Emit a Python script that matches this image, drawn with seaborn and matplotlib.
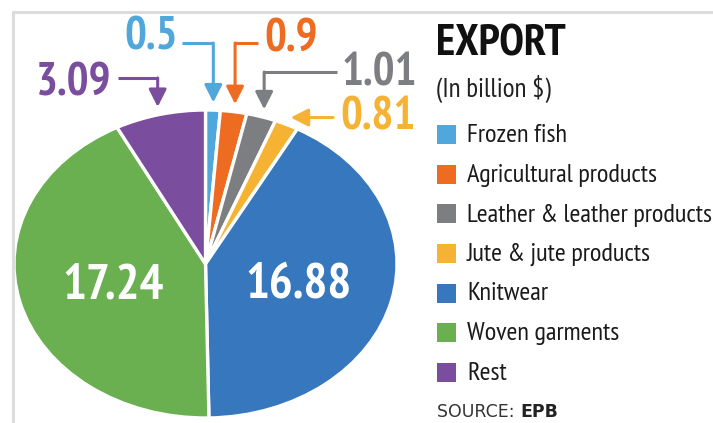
import matplotlib
matplotlib.use("Agg")
import matplotlib.pyplot as plt
import seaborn as sns
import numpy as np

# Export earnings by sector, in billion dollars
categories = ["Frozen fish", "Agricultural products", "Leather & leather products",
              "Jute & jute products", "Knitwear", "Woven garments", "Rest"]
values = [0.5, 0.9, 1.01, 0.81, 16.88, 17.24, 3.09]
value_labels = ["0.5", "0.9", "1.01", "0.81", "16.88", "17.24", "3.09"]
colors = ["#4fa7dc", "#ee6b22", "#7d7e82", "#f6b232", "#3777bd", "#6aaf50", "#7a4d9e"]
title = "EXPORT"
subtitle = "(In billion $)"
source_prefix = "SOURCE:"
source_name = "EPB"

sns.set_theme(style="white")
NARROW = ["PT Sans Narrow", "Archivo Narrow", "Roboto Condensed", "DejaVu Sans"]
plt.rcParams["font.family"] = NARROW

W, H = 713, 423
fig = plt.figure(figsize=(W / 100, H / 100), dpi=100)
fig.patch.set_facecolor("white")
ax = fig.add_axes([0, 0, 1, 1])

# ellipse centre and radii in pixels (pie is stretched horizontally)
CX, CY, RX, RY = 205.5, 264.0, 191.5, 154.0


def to_data(px, py):
    return (px - CX) / RX, (CY - py) / RY


wedges, _ = ax.pie(values, colors=colors, startangle=90, counterclock=False,
                   wedgeprops=dict(edgecolor="white", linewidth=2.4))
ax.set_aspect("auto")
ax.set_xlim(-CX / RX, (W - CX) / RX)
ax.set_ylim((CY - H) / RY, CY / RY)
ax.axis("off")

# frame lines along top and left
fig.add_artist(plt.Line2D([12.5 / W, 1], [1 - 12.5 / H, 1 - 12.5 / H],
                          color="#dcdcdc", lw=2.2))
fig.add_artist(plt.Line2D([12.5 / W, 12.5 / W], [0, 1 - 12.5 / H],
                          color="#dcdcdc", lw=2.2))


def mid_angle(w):
    return np.deg2rad((w.theta1 + w.theta2) / 2)


# callouts for the small slices: (index, text x, text y, align, line y, start x, vertical?)
callouts = [
    (0, 178, 37, "right", 43, 182, True),
    (1, 264, 40, "left", 43, 258, True),
    (2, 342, 73, "left", 72, 337, True),
    (3, 340, 118, "left", None, 333, False),
    (6, 111, 83, "right", 78, 118, True),
]
for idx, tx, ty, ha, ly, sx, vertical in callouts:
    c = colors[idx]
    a = mid_angle(wedges[idx])
    tip = (1.05 * np.cos(a), 1.05 * np.sin(a))
    ax.text(*to_data(tx, ty), value_labels[idx], ha=ha, va="center", color=c,
            fontsize=33, fontweight="bold")
    if vertical:
        elbow = (tip[0], to_data(0, ly)[1])
        start = (to_data(sx, 0)[0], elbow[1])
        ax.plot([start[0], elbow[0]], [start[1], elbow[1]], color=c, lw=2.2,
                solid_capstyle="butt")
    else:
        elbow = (to_data(sx, 0)[0], tip[1])
    ax.annotate("", xy=tip, xytext=elbow,
                arrowprops=dict(arrowstyle="-|>,head_length=0.75,head_width=0.38",
                                color=c, lw=2.2, shrinkA=0, shrinkB=0,
                                mutation_scale=14))

# values written inside the two large slices
for idx in (4, 5):
    a = mid_angle(wedges[idx])
    ax.text(0.5 * np.cos(a), 0.5 * np.sin(a) - 0.02, value_labels[idx],
            ha="center", va="center", color="white", fontsize=36, fontweight="bold")

# title block and legend on the right
ax.text(*to_data(436, 45), title, ha="left", va="center", color="#111111",
        fontsize=32, fontweight="bold")
ax.text(*to_data(436, 89), subtitle, ha="left", va="center", color="#222222",
        fontsize=19.5)

row_y0, row_step = 135, 39.5
for i, (cat, col) in enumerate(zip(categories, colors)):
    y = row_y0 + i * row_step
    x0, y0 = to_data(437, y + 9.5)
    x1, y1 = to_data(456, y - 9.5)
    ax.add_patch(plt.Rectangle((x0, y0), x1 - x0, y1 - y0, facecolor=col,
                               edgecolor="none"))
    ax.text(*to_data(467, y + 1), cat, ha="left", va="center", color="#1a1a1a",
            fontsize=19)

src = ax.text(*to_data(437, 412), source_prefix + " ", ha="left", va="center",
              color="#333333", fontsize=12.5, family=["DejaVu Sans"])
fig.canvas.draw()
bb = src.get_window_extent()
ax.text(bb.x1 / W, 1 - 412 / H, source_name, transform=fig.transFigure,
        ha="left", va="center", color="#222222", fontsize=12.5,
        fontweight="bold", family=["DejaVu Sans"])

fig.savefig("out.png", dpi=100, facecolor="white")
